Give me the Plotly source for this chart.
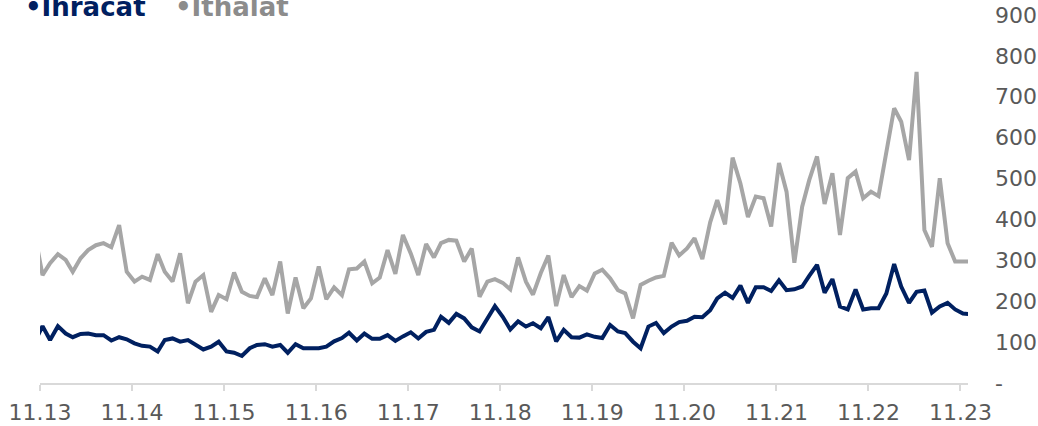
import pandas as pd
import plotly.graph_objects as go

# Monthly observations (Oct 2013 - Dec 2023), plotted around the 11th of each month
dates = pd.date_range("2013-10-01", periods=123, freq="MS") + pd.Timedelta(days=10)

ihracat = [100,
           139, 105, 139, 121, 112, 120, 121, 117, 117, 104,
           112, 107, 97, 91, 89, 77, 105, 109, 101, 105,
           93, 82, 89, 101, 77, 74, 66, 85, 93, 95,
           89, 93, 74, 95, 85, 84, 85, 89, 102, 110,
           123, 104, 121, 108, 108, 117, 103, 114, 124, 109,
           125, 130, 162, 147, 169, 158, 136, 126, 158, 188,
           162, 131, 151, 138, 146, 134, 161, 102, 130, 112,
           111, 119, 113, 110, 142, 126, 122, 101, 85, 138,
           147, 122, 138, 149, 152, 162, 161, 178, 207, 221,
           208, 238, 196, 234, 234, 225, 251, 227, 229, 236,
           262, 289, 221, 254, 187, 180, 229, 180, 183, 183,
           219, 291, 236, 196, 223, 226, 172, 187, 196, 180,
           170, 168]

ithalat = [365,
           264, 293, 315, 301, 272, 305, 325, 337, 342, 332,
           386, 272, 248, 260, 252, 315, 272, 248, 317, 195,
           248, 264, 174, 215, 205, 270, 223, 213, 210, 256,
           215, 297, 170, 258, 183, 207, 285, 205, 234, 215,
           278, 280, 297, 244, 258, 325, 267, 362, 317, 264,
           340, 307, 342, 350, 348, 297, 329, 211, 248, 254,
           245, 229, 307, 248, 216, 269, 312, 188, 264, 210,
           237, 226, 268, 277, 256, 227, 219, 158, 240, 250,
           258, 262, 343, 312, 329, 354, 303, 393, 447, 388,
           551, 488, 406, 456, 452, 383, 538, 468, 294, 431,
           496, 554, 438, 513, 362, 501, 517, 452, 468, 457,
           566, 672, 639, 545, 761, 374, 333, 501, 342, 297,
           297, 297]

tick_dates = [f"{y}-11-01" for y in range(2013, 2024)]
tick_labels = [f"11.{y % 100:02d}" for y in range(2013, 2024)]
y_ticks = list(range(0, 901, 100))
y_labels = ["-"] + [str(v) for v in y_ticks[1:]]

NAVY = "#002060"
GREY = "#a6a6a6"
TXT = "#595959"

fig = go.Figure()
fig.add_trace(go.Scatter(x=dates, y=ithalat, name="İthalat", mode="lines",
                         line=dict(color=GREY, width=4), showlegend=False))
fig.add_trace(go.Scatter(x=dates, y=ihracat, name="İhracat", mode="lines",
                         line=dict(color=NAVY, width=4), showlegend=False))

fig.update_layout(
    width=1038, height=426,
    margin=dict(l=40, r=70, t=15, b=43, autoexpand=False),
    paper_bgcolor="white", plot_bgcolor="white",
    font=dict(family="DejaVu Sans", size=22, color=TXT),
    xaxis=dict(
        type="date", automargin=False,
        range=["2013-11-01", "2023-12-01"],
        tickvals=tick_dates, ticktext=tick_labels,
        showgrid=False, zeroline=False,
        showline=True, linecolor="#d9d9d9", linewidth=2,
        ticks="outside", ticklen=6, tickcolor="#d9d9d9", tickwidth=2,
        ticklabelstandoff=3,
        tickfont=dict(family="DejaVu Sans", size=22, color=TXT),
    ),
    yaxis=dict(
        side="right", automargin=False,
        range=[0, 900],
        tickvals=y_ticks, ticktext=y_labels,
        showgrid=False, zeroline=False, showline=False,
        ticks="", ticklabelstandoff=26,
        tickfont=dict(family="DejaVu Sans", size=22, color=TXT),
    ),
)

fig.add_annotation(xref="paper", yref="paper", x=-0.018, y=1.022,
                   xanchor="left", yanchor="middle", showarrow=False,
                   text="<b>•İhracat</b>",
                   font=dict(family="DejaVu Sans", size=26, color=NAVY))
fig.add_annotation(xref="paper", yref="paper", x=0.143, y=1.022,
                   xanchor="left", yanchor="middle", showarrow=False,
                   text="<b>•İthalat</b>",
                   font=dict(family="DejaVu Sans", size=26, color="#8c8c8c"))

fig.write_html("out.html", config={"displayModeBar": False},
               post_script="document.body.style.margin='0';")
